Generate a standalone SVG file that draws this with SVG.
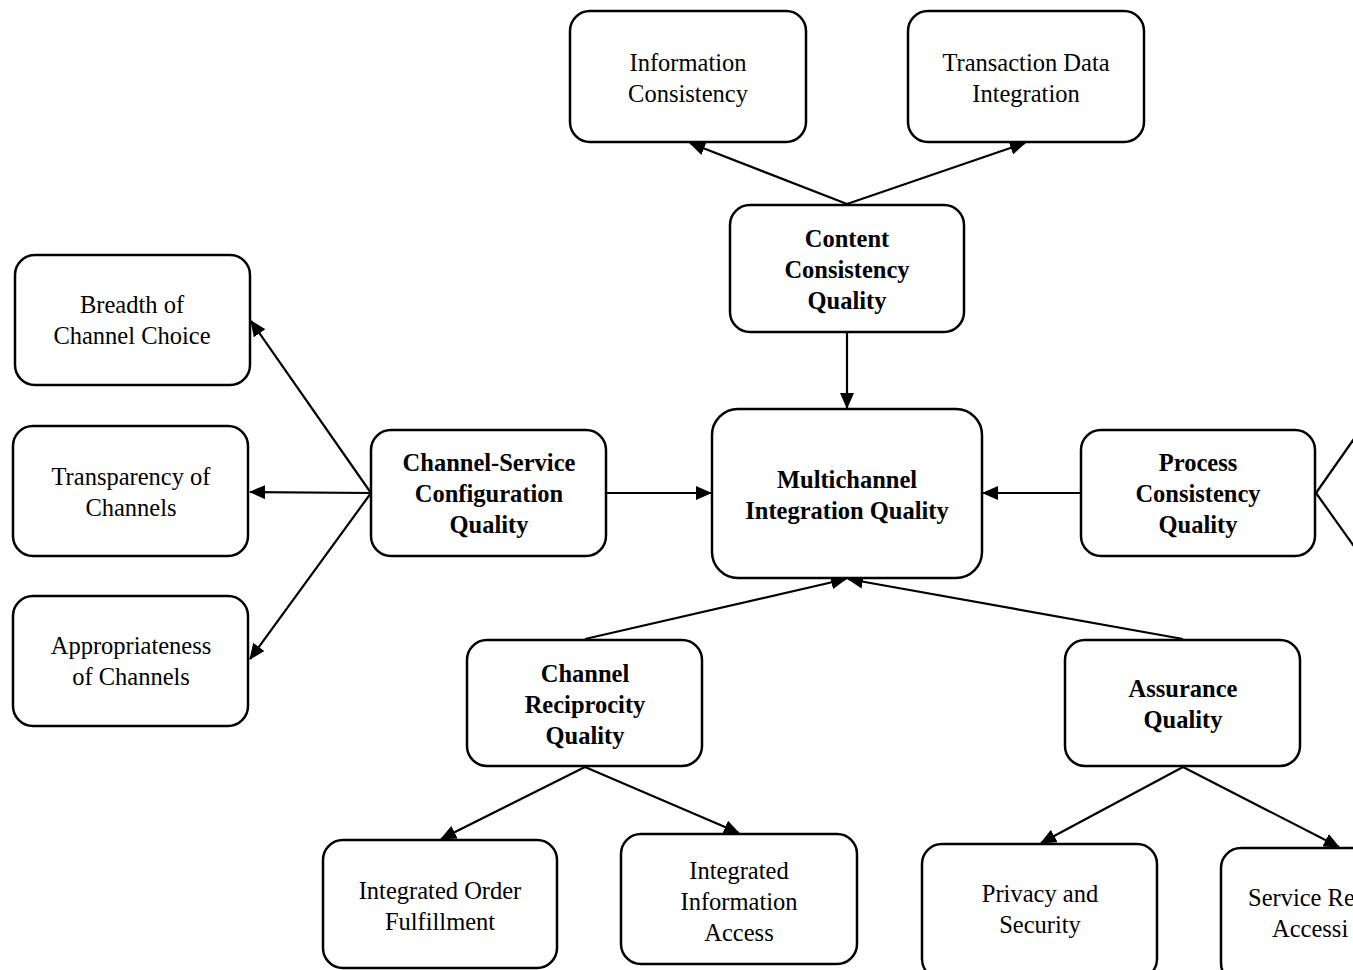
<svg xmlns="http://www.w3.org/2000/svg" width="1353" height="970" viewBox="0 0 1353 970">
<defs>
<style>
.box{fill:#fff;stroke:#000;stroke-width:2.5}
.t{font-size:24.5px;fill:#000;text-anchor:middle}
.b{font-weight:bold}
.c{stroke:#000;stroke-width:2.2;fill:none}
.a{marker-end:url(#ah)}
</style>
<marker id="ah" viewBox="0 0 16 14" refX="15" refY="7" markerWidth="16" markerHeight="14" markerUnits="userSpaceOnUse" orient="auto">
<path d="M0,0 L16,7 L0,14 Z" fill="#000"/>
</marker>
</defs>
<rect width="1353" height="970" fill="#fff"/>
<g id="connectors">
<line class="c a" x1="847" y1="204" x2="690" y2="143"/>
<line class="c a" x1="847" y1="204" x2="1025" y2="143"/>
<line class="c a" x1="847" y1="333" x2="847" y2="408"/>
<line class="c a" x1="371" y1="493" x2="251" y2="321"/>
<line class="c a" x1="371" y1="493" x2="250" y2="492"/>
<line class="c a" x1="371" y1="493" x2="250" y2="659"/>
<line class="c a" x1="606" y1="493" x2="711" y2="493"/>
<line class="c a" x1="1081" y1="493" x2="983" y2="493"/>
<line class="c a" x1="585" y1="639" x2="846" y2="579"/>
<line class="c a" x1="1183" y1="639" x2="848" y2="579"/>
<line class="c a" x1="585" y1="767" x2="441" y2="839"/>
<line class="c a" x1="585" y1="767" x2="739" y2="833"/>
<line class="c a" x1="1183" y1="767" x2="1041" y2="843"/>
<line class="c a" x1="1183" y1="767" x2="1339" y2="847"/>
<line class="c" x1="1316" y1="493" x2="1356" y2="436"/>
<line class="c" x1="1316" y1="493" x2="1356" y2="549"/>
</g>
<g font-family="Liberation Serif, Times New Roman, Times, DejaVu Serif, serif">
<g id="n-info">
<rect class="box" x="570" y="11" width="236" height="131" rx="20"/>
<text class="t" x="688" y="71">Information</text>
<text class="t" x="688" y="102">Consistency</text>
</g>
<g id="n-trans">
<rect class="box" x="908" y="11" width="236" height="131" rx="20"/>
<text class="t" x="1026" y="71">Transaction Data</text>
<text class="t" x="1026" y="102">Integration</text>
</g>
<g id="n-content">
<rect class="box" x="730" y="205" width="234" height="127" rx="20"/>
<text class="t b" x="847" y="247">Content</text>
<text class="t b" x="847" y="278">Consistency</text>
<text class="t b" x="847" y="309">Quality</text>
</g>
<g id="n-breadth">
<rect class="box" x="15" y="255" width="235" height="130" rx="20"/>
<text class="t" x="132" y="313">Breadth of</text>
<text class="t" x="132" y="344">Channel Choice</text>
</g>
<g id="n-transp">
<rect class="box" x="13" y="426" width="235" height="130" rx="20"/>
<text class="t" x="131" y="485">Transparency of</text>
<text class="t" x="131" y="516">Channels</text>
</g>
<g id="n-approp">
<rect class="box" x="13" y="596" width="235" height="130" rx="20"/>
<text class="t" x="131" y="654">Appropriateness</text>
<text class="t" x="131" y="685">of Channels</text>
</g>
<g id="n-cscq">
<rect class="box" x="371" y="430" width="235" height="126" rx="20"/>
<text class="t b" x="489" y="471">Channel-Service</text>
<text class="t b" x="489" y="502">Configuration</text>
<text class="t b" x="489" y="533">Quality</text>
</g>
<g id="n-miq">
<rect class="box" x="712" y="409" width="270" height="169" rx="26"/>
<text class="t b" x="847" y="488">Multichannel</text>
<text class="t b" x="847" y="519">Integration Quality</text>
</g>
<g id="n-pcq">
<rect class="box" x="1081" y="430" width="234" height="126" rx="20"/>
<text class="t b" x="1198" y="471">Process</text>
<text class="t b" x="1198" y="502">Consistency</text>
<text class="t b" x="1198" y="533">Quality</text>
</g>
<g id="n-crq">
<rect class="box" x="467" y="640" width="235" height="126" rx="20"/>
<text class="t b" x="585" y="682">Channel</text>
<text class="t b" x="585" y="713">Reciprocity</text>
<text class="t b" x="585" y="744">Quality</text>
</g>
<g id="n-aq">
<rect class="box" x="1065" y="640" width="235" height="126" rx="20"/>
<text class="t b" x="1183" y="697">Assurance</text>
<text class="t b" x="1183" y="728">Quality</text>
</g>
<g id="n-iof">
<rect class="box" x="323" y="840" width="234" height="128" rx="20"/>
<text class="t" x="440" y="899">Integrated Order</text>
<text class="t" x="440" y="930">Fulfillment</text>
</g>
<g id="n-iia">
<rect class="box" x="621" y="834" width="236" height="130" rx="20"/>
<text class="t" x="739" y="879">Integrated</text>
<text class="t" x="739" y="910">Information</text>
<text class="t" x="739" y="941">Access</text>
</g>
<g id="n-ps">
<rect class="box" x="922" y="844" width="235" height="135" rx="20"/>
<text class="t" x="1040" y="902">Privacy and</text>
<text class="t" x="1040" y="933">Security</text>
</g>
<g id="n-sra">
<rect class="box" x="1221" y="848" width="235" height="135" rx="20"/>
<text class="t" x="1248" y="906" style="text-anchor:start">Service Re</text>
<text class="t" x="1272" y="937" style="text-anchor:start">Accessi</text>
</g>
</g>
</svg>
